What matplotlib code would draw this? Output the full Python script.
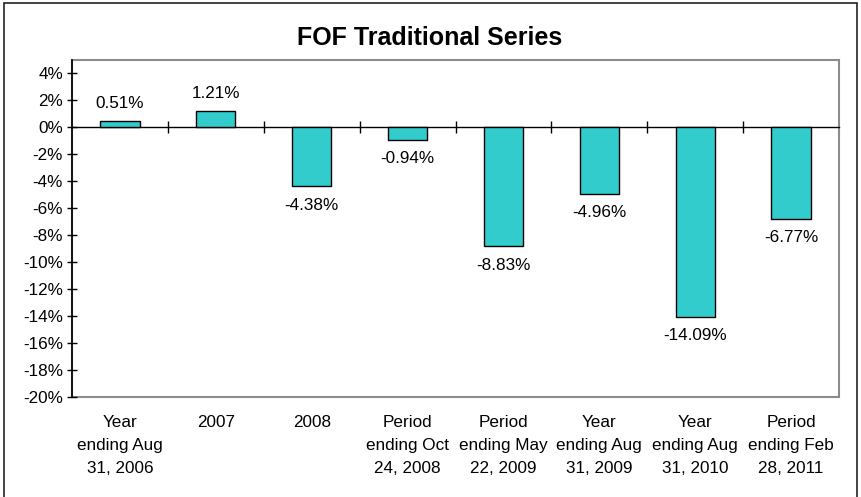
import matplotlib
matplotlib.use("Agg")
import matplotlib.pyplot as plt
from matplotlib.patches import Rectangle
import matplotlib.transforms as mtransforms

categories = ["Year\nending Aug\n31, 2006", "2007", "2008", "Period\nending Oct\n24, 2008",
              "Period\nending May\n22, 2009", "Year\nending Aug\n31, 2009", "Year\nending Aug\n31, 2010",
              "Period\nending Feb\n28, 2011"]
values = [0.51, 1.21, -4.38, -0.94, -8.83, -4.96, -14.09, -6.77]
yticks = list(range(-20, 5, 2))
title = "FOF Traditional Series"

plt.rcParams['font.family'] = ['Liberation Sans', 'DejaVu Sans']
FS = 12.3

fig = plt.figure(figsize=(8.61, 4.97), dpi=100)
fig.patch.set_facecolor('white')
# figure border
fig.patches.append(Rectangle((4/861, -0.01), 853/861, 1 - 3/497 + 0.01, transform=fig.transFigure,
                             fill=False, edgecolor='#222222', linewidth=1.2))

ax = fig.add_axes([72/861, 1 - 397/497, (839 - 72)/861, (397 - 60)/497])
x = list(range(len(values)))
ax.bar(x, values, width=0.41, color='#33CCCC', edgecolor='black', linewidth=1.0, zorder=3)

ax.set_xlim(-0.5, len(values) - 0.5)
ax.set_ylim(-20, 5)
ax.set_yticks(yticks)
ax.set_yticklabels([f"{t}%" for t in yticks], fontsize=FS)
ax.tick_params(axis='y', direction='inout', length=7, width=1, pad=3)

# zero-line axis
ax.spines['bottom'].set_position(('data', 0))
ax.spines['bottom'].set_color('black')
ax.spines['bottom'].set_linewidth(1)
ax.set_xticks([i + 0.5 for i in range(len(values) - 1)])
ax.set_xticklabels([])
ax.tick_params(axis='x', direction='inout', length=8, width=1)
ax.spines['left'].set_color('black')
ax.spines['left'].set_linewidth(1.2)
ax.spines['top'].set_visible(False)
ax.spines['right'].set_visible(False)
ax.add_patch(Rectangle((0, 0), 1, 1, transform=ax.transAxes, fill=False,
                       edgecolor='#8c8c8c', linewidth=1.5, zorder=1, clip_on=False))

# category labels
trans = mtransforms.blended_transform_factory(ax.transData, ax.transAxes)
for xi, lab in zip(x, categories):
    ax.text(xi, -0.052, lab, transform=trans, ha='center', va='top', fontsize=FS,
            linespacing=1.68)

# value labels
for xi, v in zip(x, values):
    if v >= 0:
        ax.annotate(f"{v:.2f}%", (xi, v), xytext=(0, 7), textcoords='offset points',
                    ha='center', va='bottom', fontsize=FS)
    else:
        ax.annotate(f"{v:.2f}%", (xi, v), xytext=(0, -8), textcoords='offset points',
                    ha='center', va='top', fontsize=FS)

fig.text(0.5 - 1/861, 1 - 45/497, title, ha='center', va='baseline', fontsize=18, fontweight='bold')

fig.savefig("out.png", dpi=100)
